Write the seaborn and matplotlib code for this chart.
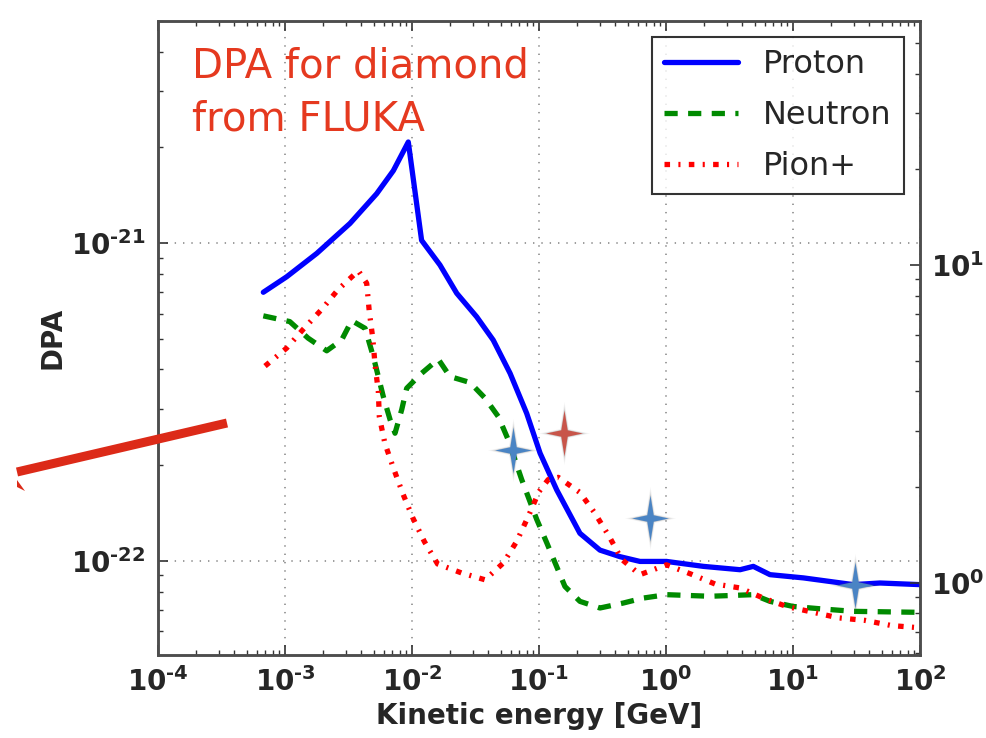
import numpy as np
import pandas as pd
import matplotlib
matplotlib.use("Agg")
import matplotlib.pyplot as plt
import seaborn as sns
from matplotlib.path import Path
from matplotlib.lines import Line2D
from matplotlib.patches import Polygon
from matplotlib.ticker import FuncFormatter, LogLocator, NullFormatter, FixedLocator

# ---- DPA curves (kinetic energy in GeV, DPA per particle) ----
proton_E = [6.75e-4, 1.03e-3, 1.78e-3, 3.25e-3, 5.27e-3, 7.13e-3, 9.35e-3, 1.19e-2, 1.66e-2,
            2.25e-2, 3.23e-2, 4.36e-2, 5.92e-2, 8.0e-2, 0.102, 0.138, 0.210, 0.302,
            0.434, 0.624, 1.01, 1.97, 3.83, 4.87, 6.59, 12.1, 29.8, 48.4, 100.0]
proton_dpa = [7.0e-22, 7.83e-22, 9.28e-22, 1.153e-21, 1.43e-21, 1.69e-21, 2.08e-21, 1.02e-21, 8.53e-22,
              6.95e-22, 5.86e-22, 4.95e-22, 3.89e-22, 2.91e-22, 2.18e-22, 1.67e-22, 1.22e-22, 1.08e-22,
              1.03e-22, 9.95e-23, 9.95e-23, 9.6e-23, 9.37e-23, 9.6e-23, 9.04e-23, 8.83e-23, 8.41e-23,
              8.51e-23, 8.41e-23]

neutron_E = [6.75e-4, 1.09e-3, 1.52e-3, 2.13e-3, 2.79e-3, 3.35e-3, 4.27e-3, 4.96e-3, 5.43e-3,
             5.94e-3, 6.72e-3, 7.35e-3, 8.30e-3, 9.08e-3, 1.19e-2, 1.61e-2, 1.99e-2, 2.86e-2,
             3.76e-2, 4.79e-2, 5.73e-2, 7.31e-2, 9.59e-2, 0.115, 0.134, 0.160, 0.210, 0.302,
             0.461, 0.662, 1.01, 2.22, 4.87, 6.59, 10.0, 16.3, 29.8, 100.0]
neutron_dpa = [5.90e-22, 5.66e-22, 5.02e-22, 4.58e-22, 4.95e-22, 5.70e-22, 5.39e-22, 4.39e-22, 3.80e-22,
               3.29e-22, 2.78e-22, 2.52e-22, 2.99e-22, 3.49e-22, 3.89e-22, 4.31e-22, 3.80e-22, 3.64e-22,
               3.25e-22, 2.84e-22, 2.40e-22, 1.80e-22, 1.35e-22, 1.14e-22, 9.84e-23, 8.30e-23, 7.45e-23, 7.10e-23,
               7.36e-23, 7.63e-23, 7.82e-23, 7.73e-23, 7.82e-23, 7.45e-23, 7.18e-23, 7.06e-23, 6.93e-23, 6.88e-23]

pion_E = [6.96e-4, 1.03e-3, 1.39e-3, 1.95e-3, 2.63e-3, 3.78e-3, 4.40e-3, 4.61e-3, 4.91e-3,
          5.12e-3, 5.43e-3, 5.53e-3, 6.12e-3, 7.13e-3, 8.45e-3, 1.01e-2, 1.25e-2, 1.59e-2,
          2.46e-2, 3.76e-2, 5.24e-2, 6.67e-2, 8.24e-2, 0.100, 0.118, 0.142, 0.210, 0.276,
          0.358, 0.448, 0.624, 1.01, 1.55, 2.43, 3.83, 5.83, 8.91, 14.5, 22.8, 36.9, 59.8, 100.0]
pion_dpa = [4.10e-22, 4.67e-22, 5.35e-22, 6.19e-22, 7.15e-22, 8.18e-22, 7.47e-22, 6.08e-22, 5.02e-22,
            4.13e-22, 3.41e-22, 2.84e-22, 2.34e-22, 1.96e-22, 1.63e-22, 1.37e-22, 1.15e-22, 9.77e-23,
            9.15e-23, 8.71e-23, 9.84e-23, 1.15e-22, 1.38e-22, 1.65e-22, 1.80e-22, 1.83e-22, 1.64e-22, 1.41e-22,
            1.19e-22, 1.01e-22, 9.04e-23, 9.71e-23, 9.10e-23, 8.45e-23, 8.21e-23, 7.63e-23, 7.18e-23, 6.88e-23,
            6.61e-23, 6.49e-23, 6.25e-23, 6.15e-23]

series = ["Proton", "Neutron", "Pion+"]

# highlighted operating points
star_E = [0.0621, 0.158, 0.748, 30.8]
star_dpa = [2.23e-22, 2.52e-22, 1.36e-22, 8.41e-23]
star_kind = ["blue", "red", "blue", "blue"]

x_ticks = [1e-4, 1e-3, 1e-2, 1e-1, 1e0, 1e1, 1e2]
y_ticks = [1e-22, 1e-21]
y2_ticks = [1e0, 1e1]

# ---- styling ----
sns.set_theme(style="white")
plt.rcParams["font.family"] = ["DejaVu Sans"]
plt.rcParams["mathtext.fontset"] = "dejavusans"
plt.rcParams["lines.scale_dashes"] = False
plt.rcParams["xtick.direction"] = "in"
plt.rcParams["ytick.direction"] = "in"

W, H = 987, 738
fig = plt.figure(figsize=(W / 100, H / 100), dpi=100)
fig.patch.set_facecolor("white")
ax = fig.add_axes([158 / W, 1 - 655 / H, (920 - 158) / W, (655 - 21) / H])
ax.set_facecolor("white")

df = pd.concat([
    pd.DataFrame({"E": proton_E, "DPA": proton_dpa, "particle": "Proton"}),
    pd.DataFrame({"E": neutron_E, "DPA": neutron_dpa, "particle": "Neutron"}),
    pd.DataFrame({"E": pion_E, "DPA": pion_dpa, "particle": "Pion+"}),
], ignore_index=True)

palette = {"Proton": "#0000ff", "Neutron": "#008a00", "Pion+": "#ff0000"}
dashes = {"Proton": "", "Neutron": (9.5, 7.5), "Pion+": (4.0, 6.0, 1.5, 6.0)}

sns.lineplot(data=df, x="E", y="DPA", hue="particle", style="particle",
             hue_order=series, style_order=series, palette=palette, dashes=dashes,
             estimator=None, sort=False, linewidth=3.8, ax=ax, legend=False, zorder=3)

ax.set_xscale("log")
ax.set_yscale("log")
ax.set_xlim(1e-4, 1e2)
ax.set_ylim(5.05e-23, 5.0e-21)


def decade_label(v, pos):
    n = int(round(np.log10(v)))
    sign = "\u2010" if n < 0 else ""
    return r"$\mathbf{10^{%s%d}}$" % (sign, abs(n))


fmt = FuncFormatter(decade_label)
ax.xaxis.set_major_locator(FixedLocator(x_ticks))
ax.xaxis.set_minor_locator(LogLocator(base=10, subs=np.arange(2, 10), numticks=100))
ax.xaxis.set_major_formatter(fmt)
ax.xaxis.set_minor_formatter(NullFormatter())
ax.yaxis.set_major_locator(FixedLocator(y_ticks))
ax.yaxis.set_minor_locator(LogLocator(base=10, subs=np.arange(2, 10), numticks=100))
ax.yaxis.set_major_formatter(fmt)
ax.yaxis.set_minor_formatter(NullFormatter())

ax.tick_params(axis="both", which="major", labelsize=20, length=7, width=1.2,
               color="#333333", pad=9, top=True, right=False, bottom=True, left=True)
ax.tick_params(axis="both", which="minor", length=3.5, width=1.0, color="#333333",
               top=True, right=False, bottom=True, left=True,
               labelbottom=False, labelleft=False)

ax.grid(True, which="major", linestyle=(0, (1, 5)), color="#8c8c8c", linewidth=1.2, zorder=0)
ax.grid(False, which="minor")

for s in ax.spines.values():
    s.set_color("#4d4d4d")
    s.set_linewidth(1.8)

ax.set_xlabel("Kinetic energy [GeV]", fontsize=20, fontweight="bold", labelpad=3)
ax.set_ylabel("DPA", fontsize=20, fontweight="bold", labelpad=3)

# secondary axis on the right (relative scale)
ax2 = ax.twinx()
ax2.set_yscale("log")
ax2.set_ylim(5.05e-23 * 1.172e22, 5.0e-21 * 1.172e22)
ax2.yaxis.set_major_locator(FixedLocator(y2_ticks))
ax2.yaxis.set_minor_locator(LogLocator(base=10, subs=np.arange(2, 10), numticks=100))
ax2.yaxis.set_major_formatter(fmt)
ax2.yaxis.set_minor_formatter(NullFormatter())
ax2.tick_params(axis="y", which="major", labelsize=20, length=7, width=1.2, color="#333333", pad=8)
ax2.tick_params(axis="y", which="minor", length=3.5, width=1.0, color="#333333", labelright=False)
ax2.tick_params(axis="x", which="both", labelbottom=False, labeltop=False, bottom=False, top=False)
ax2.grid(False)
for s in ax2.spines.values():
    s.set_color("#4d4d4d")
    s.set_linewidth(1.8)

# glowing four-pointed star markers
star_path = Path(
    [(0, 1.0), (0.14, 0.14), (0.8, 0), (0.14, -0.14), (0, -1.0),
     (-0.14, -0.14), (-0.8, 0), (-0.14, 0.14), (0, 1.0)],
    [Path.MOVETO] + [Path.LINETO] * 7 + [Path.CLOSEPOLY])
star_colors = {"blue": "#4a84c4", "red": "#c8554a"}
for e, d, k in zip(star_E, star_dpa, star_kind):
    for ms, a in [(46, 0.05), (42, 0.07), (38, 0.10), (35, 0.14)]:
        ax.plot([e], [d], marker=star_path, markersize=ms, color="#505050",
                alpha=a, markeredgewidth=0, linestyle="none", zorder=4)
    ax.plot([e], [d], marker=star_path, markersize=33, color=star_colors[k],
            markeredgewidth=0, linestyle="none", zorder=5)

# legend
handles = [Line2D([], [], color=palette[s], linewidth=3.8,
                  linestyle=(0, dashes[s]) if dashes[s] else "-") for s in series]
leg = ax.legend(handles, series, loc="upper right",
                bbox_to_anchor=(904 / W, 1 - 37 / H), bbox_transform=fig.transFigure,
                borderaxespad=0, fontsize=23, frameon=True, fancybox=False,
                edgecolor="black", handlelength=2.3, handletextpad=0.8,
                labelspacing=0.62, borderpad=0.38)
leg.get_frame().set_linewidth(1.5)
leg.set_zorder(10)

# annotation text
fig.text(192 / W, 1 - 46 / H, "DPA for diamond\nfrom FLUKA", color="#e5391f",
         fontsize=29, ha="left", va="top", linespacing=1.42)

# red pointer line entering from the left
fig.add_artist(Line2D([17 / W, 227 / W], [1 - 472 / H, 1 - 423 / H],
                      transform=fig.transFigure, color="#dc2a18", linewidth=6.5,
                      solid_capstyle="butt"))
fig.add_artist(Polygon([(17 / W, 1 - 480 / H), (17 / W, 1 - 487 / H), (25 / W, 1 - 491 / H)],
                       closed=True, transform=fig.transFigure, color="#dc2a18", linewidth=0))

fig.savefig("out.png", dpi=100)
